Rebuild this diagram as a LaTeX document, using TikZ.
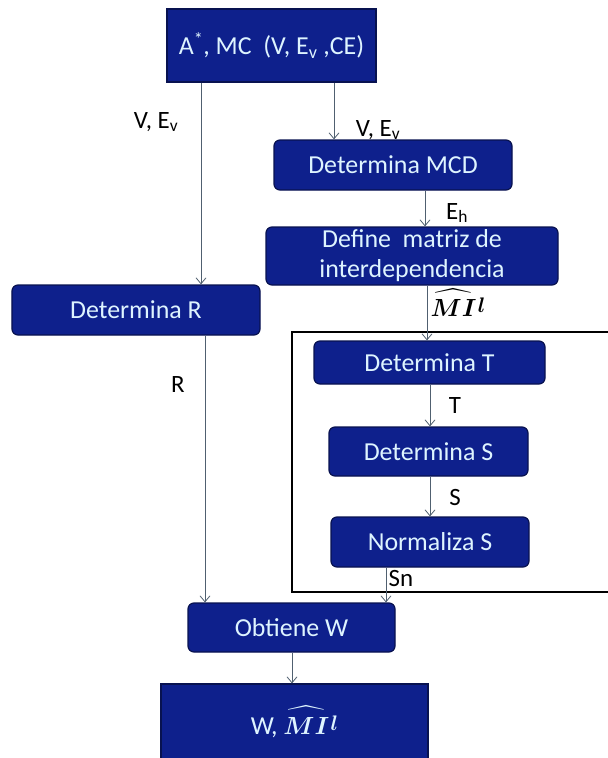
\documentclass[tikz,border=0pt]{standalone}
\usepackage{amsmath}
\usepackage{fontspec}
\setmainfont{Carlito}
\usetikzlibrary{arrows.meta}
\definecolor{boxfill}{RGB}{14,32,140}
\definecolor{boxline}{RGB}{8,18,80}
\definecolor{boxtext}{RGB}{222,244,255}
\definecolor{wire}{RGB}{80,96,112}
\tikzset{
  stepbox/.style={draw=boxline, line width=1.2bp, fill=boxfill, text=boxtext,
    rounded corners=6bp, inner sep=0pt, align=center,
    font=\fontsize{26}{30}\selectfont},
  squarebox/.style={stepbox, sharp corners},
  arr/.style={draw=wire, line width=0.8bp, -{Straight Barb[length=6bp,width=10bp]}},
  lbl/.style={font=\fontsize{25}{28}\selectfont, text=black, inner sep=0pt},
  frame/.style={draw=black, line width=2bp}
}
% bold hatted MI (hat lifted a little clear of the letters) with a raised bold l
\newcommand{\mihat}{$\widehat{\boldsymbol{MI}\rule{0pt}{0.8em}}$\kern1.5pt\raisebox{0.35ex}{\scalebox{0.85}{$\boldsymbol{l}$}}}
\begin{document}
\begin{tikzpicture}[x=1bp, y=-1bp]
  \useasboundingbox (0,0) rectangle (608,758);

  % enclosing frame for the T / S / normalisation stage
  \draw[frame] (612,332) -- (292,332) -- (292,592) -- (612,592);

  % process boxes
  \node[squarebox, minimum width=209bp, minimum height=73bp] (top) at (271.5,45.5)
    {A\textsuperscript{*}, MC\ \ (V, E\textsubscript{v} ,CE)};
  \node[stepbox, minimum width=238bp, minimum height=50bp] (mcd) at (393,165) {Determina MCD};
  \node[stepbox, minimum width=292bp, minimum height=58bp] (mi) at (412,256)
    {Define\ \ matriz de\\interdependencia};
  \node[stepbox, minimum width=248bp, minimum height=50bp] (detR) at (136,310) {Determina R};
  \node[stepbox, minimum width=231bp, minimum height=43bp] (detT) at (429.5,362.5) {Determina T};
  \node[stepbox, minimum width=199bp, minimum height=49bp] (detS) at (428.5,451.5) {Determina S};
  \node[stepbox, minimum width=198bp, minimum height=50bp] (normS) at (430,542) {Normaliza S};
  \node[stepbox, minimum width=207bp, minimum height=49bp] (getW) at (291.5,627.5) {Obtiene W};
  \node[squarebox, minimum width=267bp, minimum height=76bp] (out) at (294.5,722)
    {W, \mihat};

  % connectors
  \draw[arr] (top.south -| 201,0) -- (detR.north -| 201,0);
  \draw[arr] (top.south -| 334,0) -- (mcd.north -| 334,0);
  \draw[arr] (mcd.south -| 425,0) -- (mi.north -| 425,0);
  \draw[arr] (mi.south -| 427,0) -- (detT.north -| 427,0);
  \draw[arr] (detT.south -| 430,0) -- (detS.north -| 430,0);
  \draw[arr] (detS.south -| 430,0) -- (normS.north -| 430,0);
  \draw[arr] (normS.south -| 386,0) -- (getW.north -| 386,0);
  \draw[arr] (detR.south -| 205,0) -- (getW.north -| 205,0);
  \draw[arr] (getW.south -| 292,0) -- (out.north -| 292,0);

  % connector labels
  \node[lbl] (lVl) at (156,122) {V, E\textsubscript{v}};
  \node[lbl] (lVr) at (378,130) {V, E\textsubscript{v}};
  \node[lbl] (lEh) at (457,213) {E\textsubscript{h}};
  \node[lbl] (lMI) at (458,303) {\mihat};
  \node[lbl] (lR) at (178,385) {R};
  \node[lbl] (lT) at (455,406) {T};
  \node[lbl] (lS) at (455,497) {S};
  \node[lbl] (lSn) at (401,578) {Sn};
\end{tikzpicture}
\end{document}
